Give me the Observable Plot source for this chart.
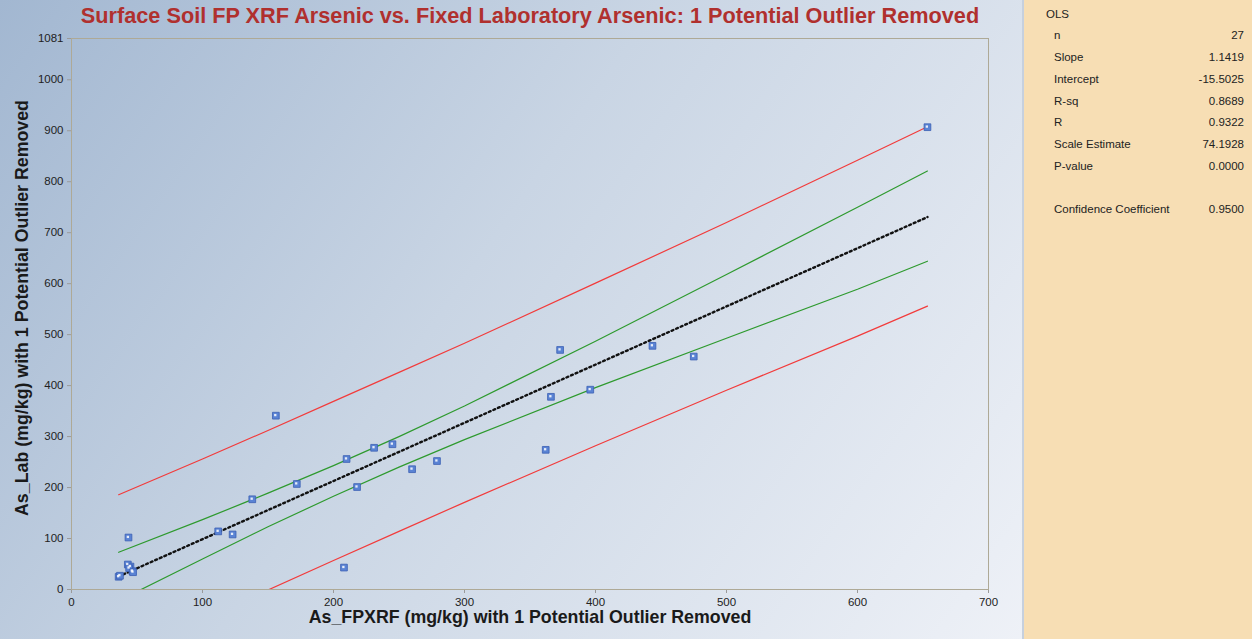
<!DOCTYPE html>
<html>
<head>
<meta charset="utf-8">
<script src="https://cdn.jsdelivr.net/npm/d3@7"></script>
<script src="https://cdn.jsdelivr.net/npm/@observablehq/plot@0.6"></script>
<style>
  html, body { margin: 0; padding: 0; }
  body { width: 1252px; height: 639px; overflow: hidden; position: relative; font-family: "Liberation Sans", Arial, sans-serif; }
  #left { position: absolute; left: 0; top: 0; width: 1022px; height: 639px;
          background: linear-gradient(125deg, #a2b7d1 0%, #c9d5e4 45%, #eef1f7 100%); }
  #title { position: absolute; left: 0; top: 3px; width: 1060px; text-align: center;
           font-family: "Liberation Sans", Arial, sans-serif;
           font-weight: bold; font-size: 21.7px; color: #b0302e; white-space: nowrap; }
  #chart { position: absolute; left: 0; top: 0; }
  #panel { position: absolute; left: 1022px; top: 0; width: 230px; height: 639px; background: #f7deb4;
           border-left: 2px solid #c6d0de; box-sizing: border-box; font-size: 11.5px; color: #222; }
  .row { position: absolute; left: 30px; width: 190px; }
  .row .v { position: absolute; right: 0; top: 0; }
</style>
</head>
<body>
<div id="left"></div>
<div id="chart"></div>
<div id="title"></div>
<div id="panel"></div>
<script>
const titleText = "Surface Soil FP XRF Arsenic vs. Fixed Laboratory Arsenic: 1 Potential Outlier Removed";
const xLabel = "As_FPXRF (mg/kg) with 1 Potential Outlier Removed";
const yLabel = "As_Lab (mg/kg) with 1 Potential Outlier Removed";

const xTicks = [0, 100, 200, 300, 400, 500, 600, 700];
const yTicks = [0, 100, 200, 300, 400, 500, 600, 700, 800, 900, 1000, 1081];

const fpxrf = [653.4, 373, 443.5, 475, 396, 366, 362, 279, 260, 245, 231, 210, 218, 172, 156, 138, 112, 123, 208, 43.5, 43, 45, 46.5, 36, 44, 47, 37];
const lab   = [907, 470, 478, 457, 392, 378, 274, 252, 236, 285, 278, 256, 201, 207, 341, 177, 114, 108, 43, 102, 49, 45, 36, 25, 42, 34, 27];

// fitted line and bands
const fitX = [36, 653.4];
const fitY = [25.6, 730.6];
const bandX = [36, 100, 150, 200, 250, 300, 400, 500, 600, 653.4];
const predUpper = [186, 256, 312, 369, 426, 483, 601, 720, 842, 908];
const confUpper = [73, 137, 189, 243, 300, 360, 487, 618, 750, 821];
const confLower = [-22, 60, 123, 183, 240, 294, 396, 493, 589, 644];
const predLower = [-134, -59, -1, 57, 114, 171, 282, 391, 497, 556];

// statistics panel
const statLabels = ["n", "Slope", "Intercept", "R-sq", "R", "Scale Estimate", "P-value", "", "Confidence Coefficient"];
const statValues = ["27", "1.1419", "-15.5025", "0.8689", "0.9322", "74.1928", "0.0000", "", "0.9500"];

const points = fpxrf.map((x, i) => ({x, y: lab[i]}));
const band = (ys) => bandX.map((x, i) => ({x, y: ys[i]}));
const fit = fitX.map((x, i) => ({x, y: fitY[i]}));

const font = '"Liberation Sans", Arial, sans-serif';

const chart = Plot.plot({
  width: 1022,
  height: 639,
  marginLeft: 71,
  marginRight: 34,
  marginTop: 38,
  marginBottom: 50,
  style: {background: "transparent", fontFamily: font, fontSize: "11.5px", color: "#222"},
  x: {domain: [0, 700], label: null},
  y: {domain: [0, 1081], label: null},
  marks: [
    Plot.axisX({ticks: xTicks, tickSize: 4, tickPadding: 4, stroke: "#9a9a9a", label: null, tickFormat: d => String(d)}),
    Plot.axisY({ticks: yTicks, tickSize: 4, tickPadding: 4, stroke: "#9a9a9a", label: null, tickFormat: d => String(d)}),
    Plot.frame({stroke: "#aea996"}),
    Plot.line(band(predUpper), {x: "x", y: "y", stroke: "#f23b3b", strokeWidth: 1.2, clip: true}),
    Plot.line(band(predLower), {x: "x", y: "y", stroke: "#f23b3b", strokeWidth: 1.2, clip: true}),
    Plot.line(band(confUpper), {x: "x", y: "y", stroke: "#2e9a2e", strokeWidth: 1.2, clip: true}),
    Plot.line(band(confLower), {x: "x", y: "y", stroke: "#2e9a2e", strokeWidth: 1.2, clip: true}),
    Plot.line(fit, {x: "x", y: "y", stroke: "#111", strokeWidth: 2.4, strokeDasharray: "2,3"}),
    Plot.dot(points, {x: "x", y: "y", symbol: "square", r: 3.8, fill: "#5a83d4", stroke: "#3b60b4", strokeWidth: 0.8}),
    Plot.dot(points, {x: "x", y: "y", symbol: "square", r: 1.3, fill: "#ffffff", fillOpacity: 0.85, dx: -0.6, dy: -0.6}),
    Plot.text([xLabel], {frameAnchor: "bottom", dy: 33, fontSize: 17.8, fontWeight: "bold", fill: "#1a1a1a"}),
    Plot.text([yLabel], {frameAnchor: "left", textAnchor: "middle", dx: -49, dy: -6, rotate: -90, fontSize: 17.8, fontWeight: "bold", fill: "#1a1a1a"})
  ]
});
document.getElementById("chart").appendChild(chart);
document.getElementById("title").textContent = titleText;

const panel = document.getElementById("panel");
const head = document.createElement("div");
head.textContent = "OLS";
head.style.cssText = "position:absolute;left:22px;top:8px;";
panel.appendChild(head);
const rowY = [29, 51, 73, 95, 116, 138, 160, 181, 203];
statLabels.forEach((lab, i) => {
  if (!lab) return;
  const r = document.createElement("div");
  r.className = "row";
  r.style.top = rowY[i] + "px";
  r.innerHTML = `<span>${lab}</span><span class="v">${statValues[i]}</span>`;
  panel.appendChild(r);
});
</script>
</body>
</html>
